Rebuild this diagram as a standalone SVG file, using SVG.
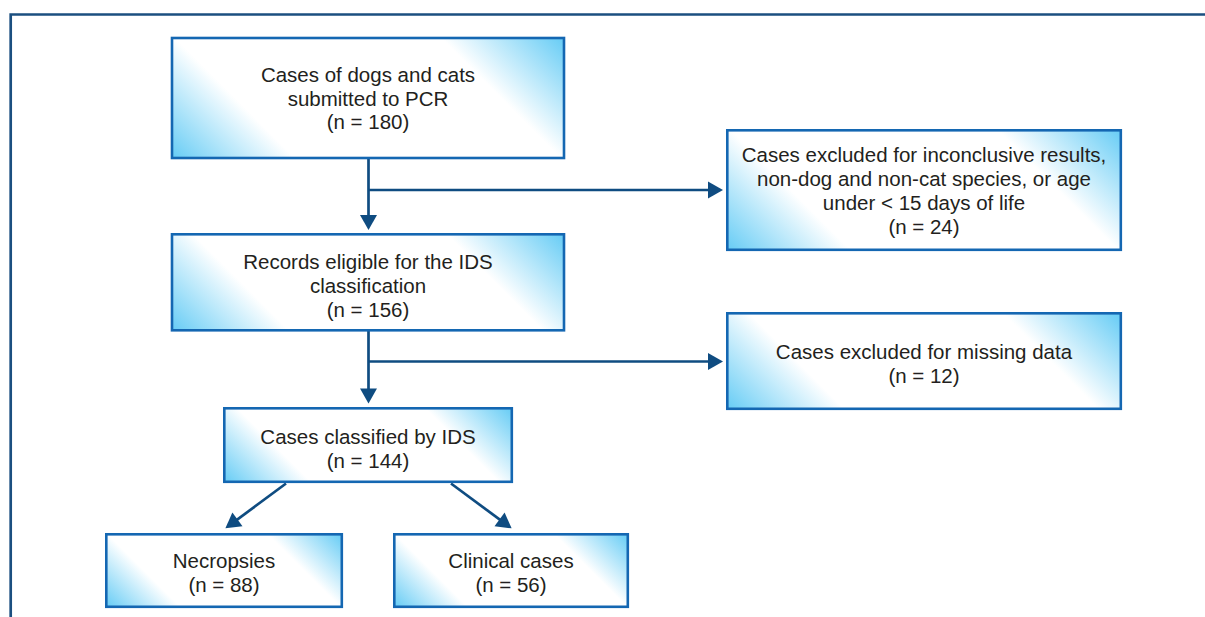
<svg xmlns="http://www.w3.org/2000/svg" xmlns:xlink="http://www.w3.org/1999/xlink" width="1205" height="617" viewBox="0 0 1205 617">
<style>
.box{stroke:#1467b2;stroke-width:2.6}
.t{font-family:"Liberation Sans",Arial,sans-serif;font-size:20.5px;fill:#231f20;text-anchor:middle}
.c{fill:none;stroke:#0f4c81;stroke-width:2.7}
</style>
<defs>
<linearGradient id="g">
<stop offset="0" stop-color="#66ccf5"/>
<stop offset="0.24" stop-color="#ffffff"/>
<stop offset="0.76" stop-color="#ffffff"/>
<stop offset="1" stop-color="#66ccf5"/>
</linearGradient>
<linearGradient id="g1" xlink:href="#g" gradientUnits="userSpaceOnUse" x1="172" y1="158" x2="428" y2="-98"/>
<linearGradient id="g2" xlink:href="#g" gradientUnits="userSpaceOnUse" x1="172" y1="330.3" x2="416" y2="86.3"/>
<linearGradient id="g3" xlink:href="#g" gradientUnits="userSpaceOnUse" x1="727.3" y1="249.8" x2="984" y2="-6.9"/>
<linearGradient id="g4" xlink:href="#g" gradientUnits="userSpaceOnUse" x1="727.3" y1="408.8" x2="972" y2="164.8"/>
<linearGradient id="g5" xlink:href="#g" gradientUnits="userSpaceOnUse" x1="224.3" y1="481.8" x2="404.8" y2="301.3"/>
<linearGradient id="g6" xlink:href="#g" gradientUnits="userSpaceOnUse" x1="106.3" y1="606.8" x2="260.3" y2="452.8"/>
<linearGradient id="g7" xlink:href="#g" gradientUnits="userSpaceOnUse" x1="394.3" y1="606.8" x2="547.3" y2="453.8"/>
<marker id="ah" markerUnits="userSpaceOnUse" markerWidth="16" markerHeight="18" refX="10" refY="8.5" orient="auto" overflow="visible">
<path d="M0,0 L15,8.5 L0,17 Z" fill="#0f4c81"/>
</marker>
</defs>
<path d="M10.7,617 V14.5 H1205" fill="none" stroke="#1b4f80" stroke-width="2.7"/>
<g id="connectors">
<path class="c" d="M368.5,159 V225" marker-end="url(#ah)"/>
<path class="c" d="M368.5,190 H718"  marker-end="url(#ah)"/>
<path class="c" d="M368.5,331 V398.5" marker-end="url(#ah)"/>
<path class="c" d="M368.5,361.5 H718" marker-end="url(#ah)"/>
<path class="c" d="M286,483.5 L229.4,525.4" marker-end="url(#ah)"/>
<path class="c" d="M451,483.5 L507.6,525.4" marker-end="url(#ah)"/>
</g>
<g id="n1">
<rect class="box" x="172" y="38" width="392" height="120" fill="url(#g1)"/>
<text class="t" x="368" y="82">Cases of dogs and cats</text>
<text class="t" x="368" y="105.5">submitted to PCR</text>
<text class="t" x="368" y="129">(n = 180)</text>
</g>
<g id="n2">
<rect class="box" x="172" y="234.3" width="392" height="96" fill="url(#g2)"/>
<text class="t" x="368" y="269">Records eligible for the IDS</text>
<text class="t" x="368" y="293">classification</text>
<text class="t" x="368" y="317">(n = 156)</text>
</g>
<g id="n3">
<rect class="box" x="727.3" y="130.3" width="393.5" height="119.5" fill="url(#g3)"/>
<text class="t" x="924" y="162">Cases excluded for inconclusive results,</text>
<text class="t" x="924" y="186">non-dog and non-cat species, or age</text>
<text class="t" x="924" y="210">under &lt; 15 days of life</text>
<text class="t" x="924" y="234">(n = 24)</text>
</g>
<g id="n4">
<rect class="box" x="727.3" y="313.3" width="393.5" height="95.5" fill="url(#g4)"/>
<text class="t" x="924" y="359">Cases excluded for missing data</text>
<text class="t" x="924" y="383">(n = 12)</text>
</g>
<g id="n5">
<rect class="box" x="224.3" y="408.3" width="287.5" height="73.5" fill="url(#g5)"/>
<text class="t" x="368" y="444">Cases classified by IDS</text>
<text class="t" x="368" y="468">(n = 144)</text>
</g>
<g id="n6">
<rect class="box" x="106.3" y="534.3" width="235.5" height="72.5" fill="url(#g6)"/>
<text class="t" x="224" y="568">Necropsies</text>
<text class="t" x="224" y="592">(n = 88)</text>
</g>
<g id="n7">
<rect class="box" x="394.3" y="534.3" width="233.5" height="72.5" fill="url(#g7)"/>
<text class="t" x="511" y="568">Clinical cases</text>
<text class="t" x="511" y="592">(n = 56)</text>
</g>
</svg>
